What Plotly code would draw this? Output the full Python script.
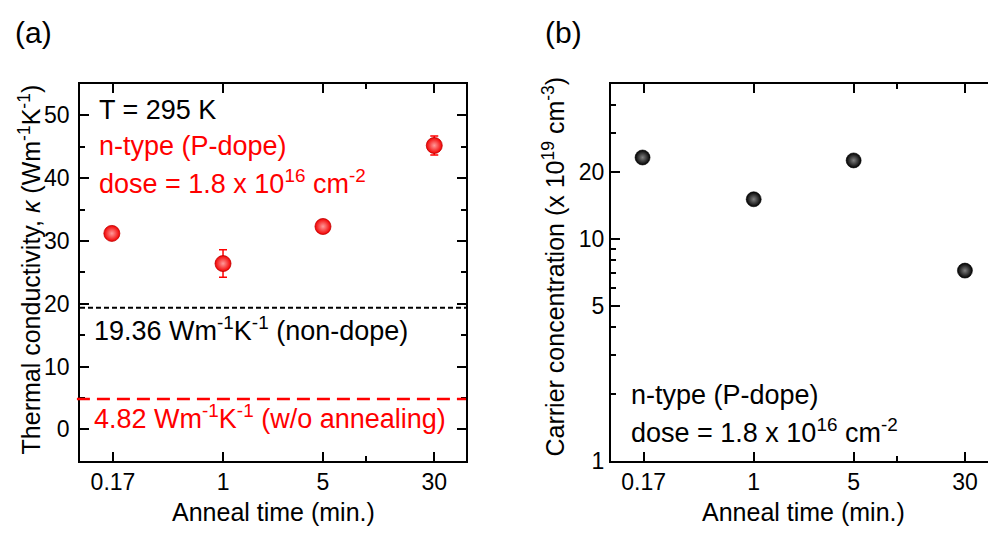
import math
import plotly.graph_objects as go

# ---------------- data ----------------
anneal_time = [0.167, 1, 5, 30]            # min
kappa = [31.2, 26.4, 32.3, 45.2]           # W m^-1 K^-1
kappa_err = [0.6, 2.2, 0.6, 1.5]
carrier = [23.3, 15.1, 22.6, 7.2]          # x 10^19 cm^-3
x_tickvals = [0.17, 1, 5, 30]
x_ticktext = ["0.17", "1", "5", "30"]
x_minor = [10]
kappa_tickvals = [0, 10, 20, 30, 40, 50]
kappa_minor = [5, 15, 25, 35, 45]
carrier_tickvals = [1, 5, 10, 20]
carrier_ticktext = ["1", "5", "10", "20"]
carrier_minor = [2, 3, 4, 6, 7, 8, 9, 30, 40]
kappa_nondope = 19.36
kappa_noanneal = 4.82

W, H = 988, 545
FONT = "Liberation Sans, Arial, sans-serif"


def px(x, y):
    return x / W, 1 - y / H


fig = go.Figure()

fig.add_trace(go.Scatter(
    x=anneal_time, y=kappa, mode="markers", xaxis="x", yaxis="y",
    error_y=dict(type="data", array=kappa_err, color="#ff0000", thickness=1.5, width=4),
    marker=dict(size=16, color="#f20000",
                gradient=dict(type="radial", color="#ff9a9a"),
                line=dict(color="#c00000", width=0.8)),
    showlegend=False))

fig.add_trace(go.Scatter(
    x=anneal_time, y=carrier, mode="markers", xaxis="x2", yaxis="y2",
    marker=dict(size=15, color="#000000",
                gradient=dict(type="radial", color="#808080"),
                line=dict(color="#000000", width=0.6)),
    showlegend=False))

# reference lines
fig.add_shape(type="line", xref="x domain", yref="y", x0=0, x1=1,
              y0=kappa_nondope, y1=kappa_nondope,
              line=dict(color="#000000", width=2, dash="5px,3px"))
fig.add_shape(type="line", xref="x domain", yref="y", x0=-0.008, x1=1,
              y0=kappa_noanneal, y1=kappa_noanneal,
              line=dict(color="#ff0000", width=2.5, dash="13px,7px"))

axis_common = dict(showline=True, linecolor="#000", linewidth=1.6,
                   ticks="inside", ticklen=9, tickwidth=1.5, tickcolor="#000",
                   showgrid=False, zeroline=False,
                   tickfont=dict(family=FONT, size=23, color="#000"))
minor_common = dict(ticks="inside", ticklen=5, tickwidth=1.5, tickcolor="#000", showgrid=False)

left_x0, left_x1 = 80 / W, 466 / W
right_x0 = 610.7 / W
ybot, ytop = 1 - 472 / H, 1 - 86 / H
right_span = (988 - 610.7) / 143.0

fig.update_layout(
    width=W, height=H, margin=dict(l=0, r=0, t=0, b=0),
    paper_bgcolor="white", plot_bgcolor="white",
    font=dict(family=FONT, color="#000"),
    xaxis=dict(axis_common, type="log", range=[-1, math.log10(50)],
               domain=[left_x0, left_x1], anchor="y",
               tickmode="array", tickvals=x_tickvals, ticktext=x_ticktext,
               minor=dict(minor_common, tickmode="array", tickvals=x_minor),
               mirror="allticks"),
    yaxis=dict(axis_common, range=[-5, 55], domain=[ybot, ytop], anchor="x",
               tickmode="array", tickvals=kappa_tickvals,
               minor=dict(minor_common, tickmode="array", tickvals=kappa_minor),
               mirror="allticks", ticklabelstandoff=4),
    xaxis2=dict(axis_common, type="log", range=[-1, -1 + right_span],
                domain=[right_x0, 1.0], anchor="y2",
                tickmode="array", tickvals=x_tickvals, ticktext=x_ticktext,
                minor=dict(minor_common, tickmode="array", tickvals=x_minor),
                mirror="allticks"),
    yaxis2=dict(axis_common, type="log", range=[0, math.log10(50)],
                domain=[ybot, ytop], anchor="x2",
                tickmode="array", tickvals=carrier_tickvals, ticktext=carrier_ticktext,
                minor=dict(minor_common, tickmode="array", tickvals=carrier_minor),
                mirror=False, ticklabelstandoff=0),
)


def ann(text, x, y, size, color="#000", xanchor="left", yanchor="middle", angle=0):
    ax, ay = px(x, y)
    fig.add_annotation(text=text, x=ax, y=ay, xref="paper", yref="paper",
                       xanchor=xanchor, yanchor=yanchor, showarrow=False,
                       textangle=angle,
                       font=dict(family=FONT, size=size, color=color))


# panel labels
ann("(a)", 13, 33, 30)
ann("(b)", 543, 33, 30)

# axis titles
ann("Anneal time (min.)", 273, 524, 25, xanchor="center")
ann("Anneal time (min.)", 803, 524, 25, xanchor="center")
ann("Thermal conductivity, <i>κ</i> (Wm<sup>-1</sup>K<sup>-1</sup>)", 30, 276, 25,
    xanchor="center", angle=-90)
ann("Carrier concentration (x 10<sup>19</sup> cm<sup>-3</sup>)", 554, 273, 25,
    xanchor="center", angle=-90)

# panel (a) texts
ann("T = 295 K", 97, 113, 27)
ann("n-type (P-dope)", 97, 150, 27, color="#ff0000")
ann("dose = 1.8 x 10<sup>16</sup> cm<sup>-2</sup>", 97, 186, 27, color="#ff0000")
ann("19.36 Wm<sup>-1</sup>K<sup>-1</sup> (non-dope)", 92, 337, 27)
ann("4.82 Wm<sup>-1</sup>K<sup>-1</sup> (w/o annealing)", 92, 427, 27, color="#ff0000")

# panel (b) texts
ann("n-type (P-dope)", 629, 405, 27)
ann("dose = 1.8 x 10<sup>16</sup> cm<sup>-2</sup>", 629, 442, 27)

fig.write_html("out.html")
